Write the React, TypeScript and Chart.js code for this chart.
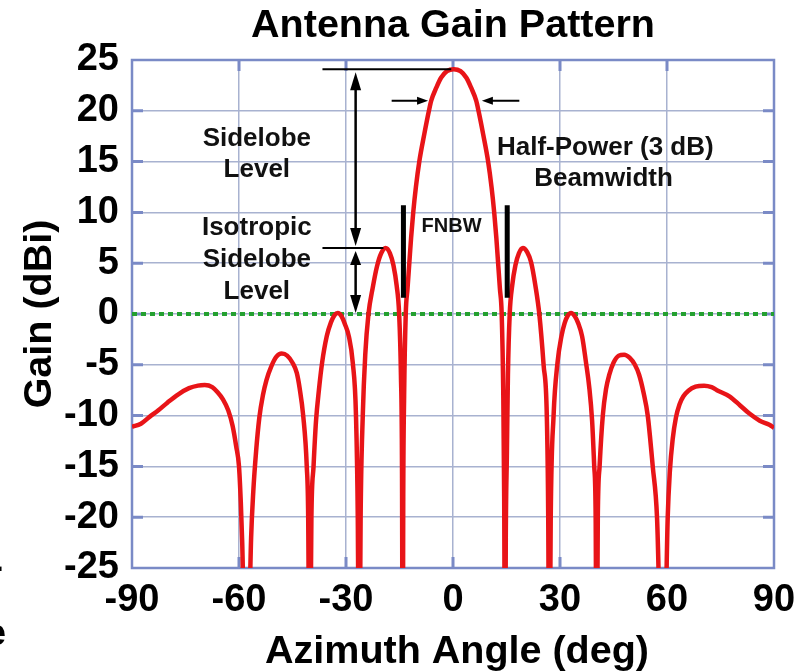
import React, { useEffect, useRef } from "react";
import { Chart, registerables } from "chart.js";

Chart.register(...registerables);

// Azimuth angle (deg) and gain (dBi)
const angles: number[] = [
  // far left lobe
  -90, -87.5, -85, -82.7, -80, -77, -74, -71.5, -69.6, -67.5, -66, -64.5, -63, -61.8, -60.8, -60.0, -59.5, -59.1, -57.9,
  // lobe at -48
  -56.6, -56.0, -55.2, -54.3, -53.3, -52.3, -51, -49.5, -48, -46.5, -45, -43.8, -43, -42.0, -41.0, -40.6, -40.2,
  // lobe at -32
  -39.7, -39.1, -38.4, -37.6, -36.7, -35.4, -34.2, -33.2, -32.3, -31.3, -30.3, -29.2, -28.1, -27.2, -26.7, -26.3,
  // first left sidelobe
  -25.9, -25.3, -24.6, -23.7, -22.5, -21.3, -20.1, -18.9, -17.7, -16.7, -15.8, -15.1, -14.6, -14.3, -14.1,
  // main lobe
  -13.95, -13.7, -13.25, -12.75, -12.25, -11.75, -11.15, -10.4, -9.45, -8.05, -6.75, -6.1, -4.65, -3.35, -1.7, 0.2,
  2.1, 3.75, 5.05, 6.5, 7.15, 8.45, 9.85, 10.8, 11.55, 12.15, 12.65, 13.15, 13.65, 14.1, 14.35, 14.6,
  // first right sidelobe
  14.8, 15.1, 15.4, 15.9, 16.6, 17.5, 18.5, 19.6, 20.8, 21.9, 23.1, 24.2, 25.4, 26.3, 26.7, 27.0,
  // lobe at 33
  27.4, 28.2, 29.3, 30.4, 31.3, 32.2, 33.1, 34.1, 35.1, 36.2, 37.3, 38.2, 39.0, 39.6, 40.0, 40.25,
  // lobe at 48
  40.6, 41.1, 42.0, 42.9, 43.8, 45.0, 46.5, 48, 49.5, 51, 52.2, 53.4, 54.6, 56.0, 57.2, 58.9,
  // far right lobe
  60.2, 60.8, 61.6, 62.5, 63.5, 64.6, 66, 68, 70.4, 72.5, 74, 77.5, 80.5, 83.1, 86, 88.7, 90,
];
const gains: number[] = [
  -11.1, -10.8, -10.1, -9.5, -8.7, -7.9, -7.3, -7.05, -7.0, -7.2, -7.7, -8.4, -9.5, -11.0, -13.0, -15, -18.5, -22.5, -40,
  -22, -17.5, -13.5, -10.2, -8.0, -6.5, -5.2, -4.2, -3.9, -4.1, -4.8, -5.8, -7.3, -10, -15, -20, -40,
  -20, -15, -10.5, -7.5, -4.8, -2.2, -0.8, -0.1, 0.1, -0.2, -1.0, -2.2, -4.8, -10, -20, -40,
  -20, -10, -4, 0, 2.6, 4.7, 6.0, 6.5, 6.0, 4.8, 2.8, 0, -6, -15, -40,
  -18, -8, 0, 2.5, 5, 7.5, 10, 12.5, 15, 17.7, 20, 21, 22.3, 23.25, 23.9, 24.1,
  23.9, 23.25, 22.3, 21, 20, 17.7, 15, 12.5, 10, 7.5, 5, 2.5, 0, -8, -18, -40,
  -22, -14, -6, 0, 2.8, 4.8, 6.0, 6.5, 6.1, 5.1, 2.8, 0, -5, -10, -20, -40,
  -20, -10, -4.8, -2.2, -0.9, -0.15, 0.1, -0.2, -0.9, -2.2, -4.8, -7.2, -10.5, -15, -20, -40,
  -20, -15, -10, -7.4, -6.0, -4.8, -4.1, -4.0, -4.3, -5.0, -6.0, -7.7, -10, -15, -20, -40,
  -20, -15.5, -12.3, -10.2, -8.9, -8.1, -7.55, -7.15, -7.05, -7.2, -7.5, -8.1, -9.0, -9.8, -10.5, -10.9, -11.2,
];
// Isotropic (0 dBi) reference line
const isoAngles: number[] = [-90, 90];
const isoGains: number[] = [0, 0];

const xTicks: number[] = [-90, -60, -30, 0, 30, 60, 90];
const yTicks: number[] = [-25, -20, -15, -10, -5, 0, 5, 10, 15, 20, 25];

const TITLE = "Antenna Gain Pattern";
const X_TITLE = "Azimuth Angle (deg)";
const Y_TITLE = "Gain (dBi)";

const FONT = '"Liberation Sans", Arial, Helvetica, sans-serif';
const FRAME = "rgb(122,138,198)";
const GRID = "rgb(168,178,208)";
const RED = "rgb(232,20,24)";
const GREEN = "rgb(36,160,48)";

function arrowHead(ctx: CanvasRenderingContext2D, x: number, y: number, dx: number, dy: number, len: number, half: number) {
  const bx = x - dx * len, by = y - dy * len;
  const px = -dy, py = dx;
  ctx.beginPath();
  ctx.moveTo(x, y);
  ctx.lineTo(bx + px * half, by + py * half);
  ctx.lineTo(bx - px * half, by - py * half);
  ctx.closePath();
  ctx.fill();
}

const decor = {
  id: "decor",
  beforeDatasetsDraw(chart: any) {
    const { ctx, chartArea: ca, scales } = chart;
    const xs = scales.x, ys = scales.y;
    ctx.save();
    ctx.strokeStyle = FRAME;
    ctx.lineWidth = 3;
    ctx.beginPath();
    for (const v of yTicks) {
      if (v === 25 || v === -25) continue;
      const py = ys.getPixelForValue(v);
      ctx.moveTo(ca.left, py); ctx.lineTo(ca.left + 11, py);
      ctx.moveTo(ca.right, py); ctx.lineTo(ca.right - 11, py);
    }
    for (const v of xTicks) {
      if (v === 90 || v === -90) continue;
      const px = xs.getPixelForValue(v);
      ctx.moveTo(px, ca.top); ctx.lineTo(px, ca.top + 11);
      ctx.moveTo(px, ca.bottom); ctx.lineTo(px, ca.bottom - 11);
    }
    ctx.stroke();
    ctx.lineWidth = 2.5;
    ctx.strokeRect(ca.left, ca.top, ca.right - ca.left, ca.bottom - ca.top);
    ctx.restore();
  },
  afterDatasetsDraw(chart: any) {
    const { ctx, scales } = chart;
    const X = (v: number) => scales.x.getPixelForValue(v);
    const Y = (v: number) => scales.y.getPixelForValue(v);
    ctx.save();
    ctx.strokeStyle = "#000";
    ctx.fillStyle = "#000";
    ctx.lineWidth = 2;
    ctx.beginPath();
    ctx.moveTo(X(-36.6), Y(24.1)); ctx.lineTo(X(-0.5), Y(24.1));
    ctx.moveTo(X(-36.6), Y(6.5)); ctx.lineTo(X(-19.5), Y(6.5));
    ctx.stroke();
    const ax = X(-27.3);
    ctx.lineWidth = 2.5;
    ctx.beginPath();
    ctx.moveTo(ax, Y(24.1) + 10); ctx.lineTo(ax, Y(6.5) - 10);
    ctx.moveTo(ax, Y(6.5) + 10); ctx.lineTo(ax, Y(0) - 10);
    ctx.stroke();
    arrowHead(ctx, ax, Y(24.1) + 3, 0, -1, 18, 5.5);
    arrowHead(ctx, ax, Y(6.5) - 2, 0, 1, 18, 5.5);
    arrowHead(ctx, ax, Y(6.5) + 3, 0, -1, 14, 5.5);
    arrowHead(ctx, ax, Y(0) - 1, 0, 1, 18, 5.5);
    ctx.lineWidth = 2;
    const hy = Y(21);
    ctx.beginPath();
    ctx.moveTo(X(-17.2), hy); ctx.lineTo(X(-7.0) - 8, hy);
    ctx.moveTo(X(18.6), hy); ctx.lineTo(X(8.1) + 8, hy);
    ctx.stroke();
    arrowHead(ctx, X(-7.0), hy, 1, 0, 11, 4);
    arrowHead(ctx, X(8.1), hy, -1, 0, 11, 4);
    ctx.lineWidth = 5;
    ctx.beginPath();
    ctx.moveTo(X(-13.9), Y(10.7)); ctx.lineTo(X(-13.9), Y(1.6));
    ctx.moveTo(X(15.2), Y(10.7)); ctx.lineTo(X(15.2), Y(1.6));
    ctx.stroke();
    ctx.textAlign = "center";
    ctx.textBaseline = "middle";
    ctx.font = `bold 26px ${FONT}`;
    ctx.fillStyle = "#111";
    const lx = X(-55);
    ctx.fillText("Sidelobe", lx, Y(17.2));
    ctx.fillText("Level", lx, Y(14.2));
    ctx.fillText("Isotropic", lx, Y(8.5));
    ctx.fillText("Sidelobe", lx, Y(5.3));
    ctx.fillText("Level", lx, Y(2.2));
    ctx.fillText("Half-Power (3 dB)", X(42.7), Y(16.4));
    ctx.fillText("Beamwidth", X(42.2), Y(13.3));
    ctx.font = `bold 20px ${FONT}`;
    ctx.fillText("FNBW", X(-0.4), Y(8.6));
    ctx.restore();
  },
  afterDraw(chart: any) {
    const { ctx, chartArea: ca } = chart;
    ctx.save();
    ctx.fillStyle = "#000";
    ctx.textAlign = "center";
    ctx.textBaseline = "alphabetic";
    ctx.font = `bold 39.5px ${FONT}`;
    ctx.fillText(TITLE, (ca.left + ca.right) / 2, 37);
    ctx.fillText(X_TITLE, (ca.left + ca.right) / 2 + 4, 663);
    ctx.save();
    ctx.translate(51, (ca.top + ca.bottom) / 2);
    ctx.rotate(-Math.PI / 2);
    ctx.fillText(Y_TITLE, 0, 0);
    ctx.restore();
    ctx.textAlign = "right";
    ctx.font = `bold 36px ${FONT}`;
    ctx.fillText("-", 3, 578);
    ctx.fillText("e", 6, 645);
    ctx.restore();
  },
};

export default function App() {
  const ref = useRef<HTMLCanvasElement | null>(null);
  useEffect(() => {
    if (!ref.current) return;
    const curve = angles.map((a, i) => ({ x: a, y: gains[i] }));
    const iso = isoAngles.map((a, i) => ({ x: a, y: isoGains[i] }));
    const chart = new Chart(ref.current, {
      type: "line",
      data: {
        datasets: [
          {
            data: curve,
            borderColor: RED,
            borderWidth: 4.5,
            pointRadius: 0,
            cubicInterpolationMode: "monotone",
            order: 0,
          },
          {
            data: iso,
            borderColor: GREEN,
            borderWidth: 4,
            borderDash: [5, 4],
            pointRadius: 0,
            order: 1,
          },
        ],
      },
      plugins: [decor],
      options: {
        animation: false,
        responsive: false,
        maintainAspectRatio: false,
        layout: { padding: { top: 60, right: 24, left: 0, bottom: 0 } },
        plugins: { legend: { display: false }, title: { display: false }, tooltip: { enabled: false } },
        scales: {
          x: {
            type: "linear",
            min: -90,
            max: 90,
            afterFit: (s: any) => { s.height = 103; s.paddingRight = 0; s.paddingLeft = 0; },
            afterBuildTicks: (s: any) => { s.ticks = xTicks.map((v) => ({ value: v })); },
            ticks: { color: "#000", font: { family: FONT, size: 38, weight: "bold" }, padding: 10, maxRotation: 0 },
            grid: { color: GRID, lineWidth: 1.5, drawTicks: false },
            border: { display: false },
          },
          y: {
            type: "linear",
            min: -25,
            max: 25,
            afterFit: (s: any) => { s.width = 132; s.paddingTop = 0; s.paddingBottom = 0; },
            afterBuildTicks: (s: any) => { s.ticks = yTicks.map((v) => ({ value: v })); },
            ticks: { color: "#000", font: { family: FONT, size: 38, weight: "bold" }, padding: 13 },
            grid: { color: GRID, lineWidth: 1.5, drawTicks: false },
            border: { display: false },
          },
        },
      },
    } as any);
    return () => chart.destroy();
  }, []);
  return (
    <div style={{ position: "absolute", left: 0, top: 0, width: 798, height: 671, background: "#fff" }}>
      <canvas ref={ref} width={798} height={671} style={{ display: "block" }} />
    </div>
  );
}
